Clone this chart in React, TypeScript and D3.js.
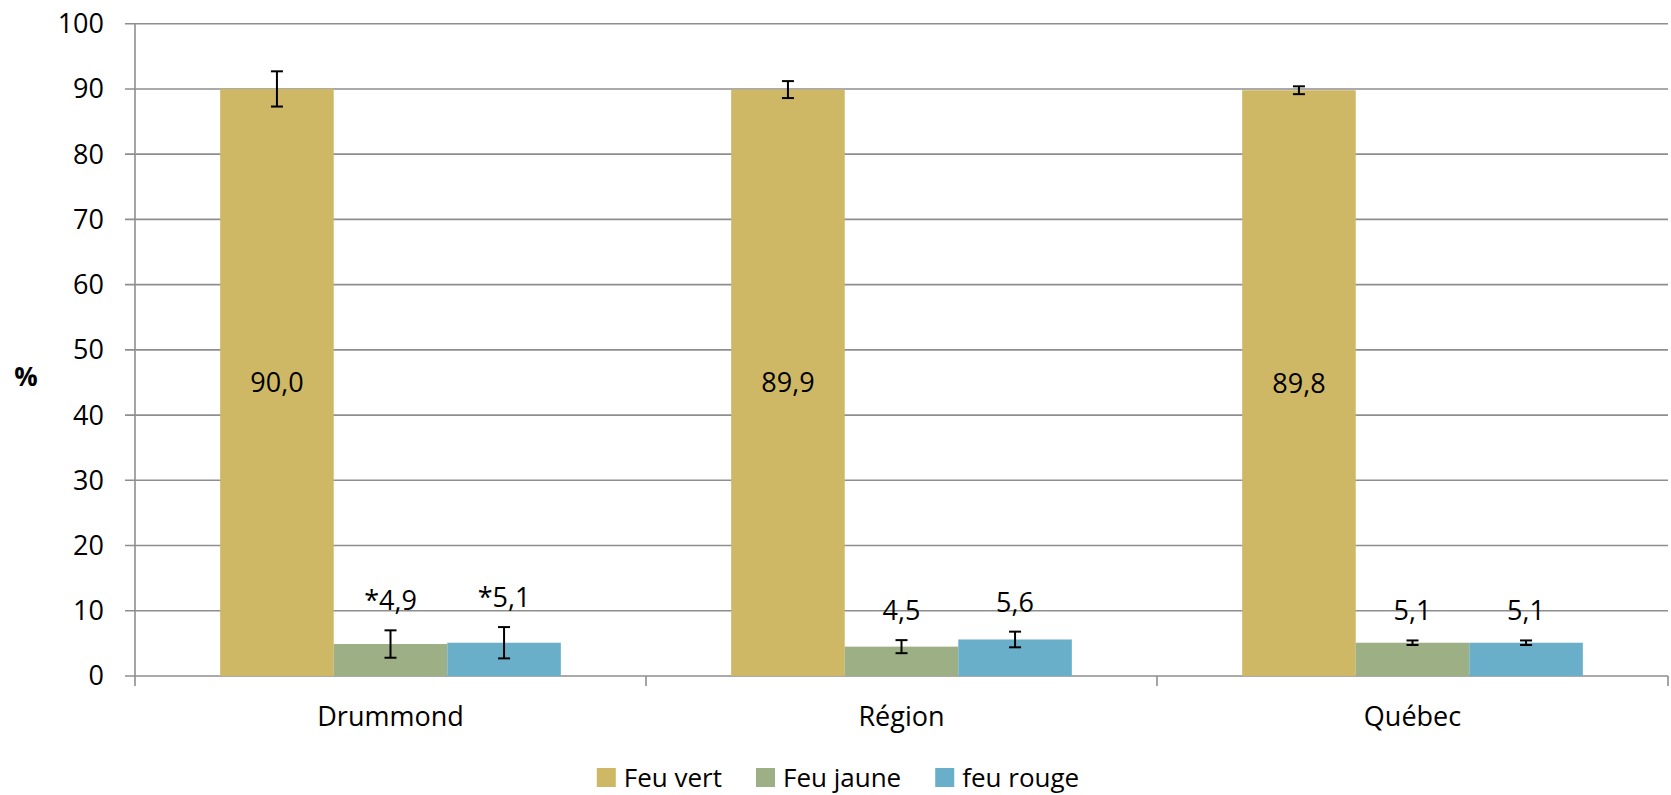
import { useRef, useEffect } from 'react';
import * as d3 from 'd3';

const categories = ['Drummond', 'Région', 'Québec'];
const seriesNames = ['Feu vert', 'Feu jaune', 'feu rouge'];
const seriesColours = ['#CEB866', '#9DAF84', '#6AAFC9'];

const feuVert = [90.0, 89.9, 89.8];
const feuJaune = [4.9, 4.5, 5.1];
const feuRouge = [5.1, 5.6, 5.1];

const errVert = [2.7, 1.3, 0.6];
const errJaune = [2.1, 1.0, 0.35];
const errRouge = [2.4, 1.2, 0.35];

// estimations à interpréter avec prudence (*)
const flagJaune = [true, false, false];
const flagRouge = [true, false, false];

const yTicks = [0, 10, 20, 30, 40, 50, 60, 70, 80, 90, 100];

const W = 1671;
const H = 795;
const FONT = '"Open Sans", "Noto Sans", sans-serif';

const fmt = (v: number, flag: boolean) => (flag ? '*' : '') + v.toFixed(1).replace('.', ',');

export default function App() {
  const svgRef = useRef<SVGSVGElement>(null);

  useEffect(() => {
    if (!svgRef.current) return;
    const svg = d3.select(svgRef.current);
    svg.selectAll('*').remove();

    const left = 135;
    const right = 1668;
    const y = d3.scaleLinear().domain([0, 100]).range([676, 23.7]);
    const x0 = d3.scaleBand<string>().domain(categories).range([left, right]).padding(0);
    const x1 = d3.scaleBand<number>().domain([0, 1, 2]).range([0, x0.bandwidth()])
      .paddingInner(0).paddingOuter(0.75);

    const values = [feuVert, feuJaune, feuRouge];
    const errors = [errVert, errJaune, errRouge];
    const flags = [[false, false, false], flagJaune, flagRouge];

    // gridlines
    svg.append('g')
      .selectAll('line')
      .data(yTicks)
      .join('line')
      .attr('x1', left - 10)
      .attr('x2', right)
      .attr('y1', d => y(d))
      .attr('y2', d => y(d))
      .attr('stroke', '#8e8e8e')
      .attr('stroke-width', 1.6);

    // y tick labels
    svg.append('g')
      .selectAll('text')
      .data(yTicks)
      .join('text')
      .attr('x', 104)
      .attr('y', d => y(d))
      .attr('dy', '0.35em')
      .attr('text-anchor', 'end')
      .attr('font-family', FONT)
      .attr('font-size', 27)
      .attr('fill', '#000')
      .text(d => d);

    // y axis line
    svg.append('line')
      .attr('x1', left).attr('x2', left)
      .attr('y1', y(100)).attr('y2', y(0) + 10)
      .attr('stroke', '#8e8e8e').attr('stroke-width', 1.6);

    // category ticks
    const bounds = categories.map(c => x0(c) as number).concat([right]);
    svg.append('g')
      .selectAll('line')
      .data(bounds.slice(1))
      .join('line')
      .attr('x1', d => d).attr('x2', d => d)
      .attr('y1', y(0)).attr('y2', y(0) + 10)
      .attr('stroke', '#8e8e8e').attr('stroke-width', 1.6);

    // bars
    values.forEach((vals, s) => {
      const g = svg.append('g');
      g.selectAll('rect')
        .data(vals)
        .join('rect')
        .attr('x', (_, i) => (x0(categories[i]) as number) + (x1(s) as number))
        .attr('y', d => y(d))
        .attr('width', x1.bandwidth())
        .attr('height', d => y(0) - y(d))
        .attr('fill', seriesColours[s]);
    });

    // error bars
    values.forEach((vals, s) => {
      const g = svg.append('g').attr('stroke', '#000').attr('stroke-width', 2);
      vals.forEach((v, i) => {
        const cx = (x0(categories[i]) as number) + (x1(s) as number) + x1.bandwidth() / 2;
        const e = errors[s][i];
        g.append('line').attr('x1', cx).attr('x2', cx).attr('y1', y(v + e)).attr('y2', y(v - e));
        g.append('line').attr('x1', cx - 6).attr('x2', cx + 6).attr('y1', y(v + e)).attr('y2', y(v + e));
        g.append('line').attr('x1', cx - 6).attr('x2', cx + 6).attr('y1', y(v - e)).attr('y2', y(v - e));
      });
    });

    // value labels
    values.forEach((vals, s) => {
      vals.forEach((v, i) => {
        const cx = (x0(categories[i]) as number) + (x1(s) as number) + x1.bandwidth() / 2;
        const inside = s === 0;
        svg.append('text')
          .attr('x', cx)
          .attr('y', inside ? y(v / 2) : y(v + errors[s][i]) - 20)
          .attr('dy', inside ? '0.35em' : 0)
          .attr('text-anchor', 'middle')
          .attr('font-family', FONT)
          .attr('font-size', 27)
          .attr('fill', '#000')
          .text(fmt(v, flags[s][i]));
      });
    });

    // category labels
    svg.append('g')
      .selectAll('text')
      .data(categories)
      .join('text')
      .attr('x', d => (x0(d) as number) + x0.bandwidth() / 2)
      .attr('y', 726)
      .attr('text-anchor', 'middle')
      .attr('font-family', FONT)
      .attr('font-size', 27)
      .attr('fill', '#000')
      .text(d => d);

    // axis title
    svg.append('text')
      .attr('x', 26)
      .attr('y', 377)
      .attr('dy', '0.35em')
      .attr('text-anchor', 'middle')
      .attr('font-family', FONT)
      .attr('font-size', 26)
      .attr('font-weight', 'bold')
      .attr('fill', '#000')
      .text('%');

    // legend
    const legend = svg.append('g');
    let cursor = 0;
    const sq = 19;
    const gap = 34;
    seriesNames.forEach((name, s) => {
      const item = legend.append('g').attr('transform', `translate(${cursor},0)`);
      item.append('rect').attr('x', 0).attr('y', -sq).attr('width', sq).attr('height', sq)
        .attr('fill', seriesColours[s]);
      const t = item.append('text')
        .attr('x', sq + 8)
        .attr('y', 0)
        .attr('font-family', FONT)
        .attr('font-size', 26)
        .attr('fill', '#000')
        .text(name);
      const tw = (t.node() as SVGTextElement).getComputedTextLength();
      cursor += sq + 8 + tw + gap;
    });
    const total = cursor - gap;
    legend.attr('transform', `translate(${838 - total / 2},787)`);
  }, []);

  return (
    <svg
      ref={svgRef}
      width={W}
      height={H}
      style={{ position: 'absolute', left: 0, top: 0, background: '#fff' }}
    />
  );
}
